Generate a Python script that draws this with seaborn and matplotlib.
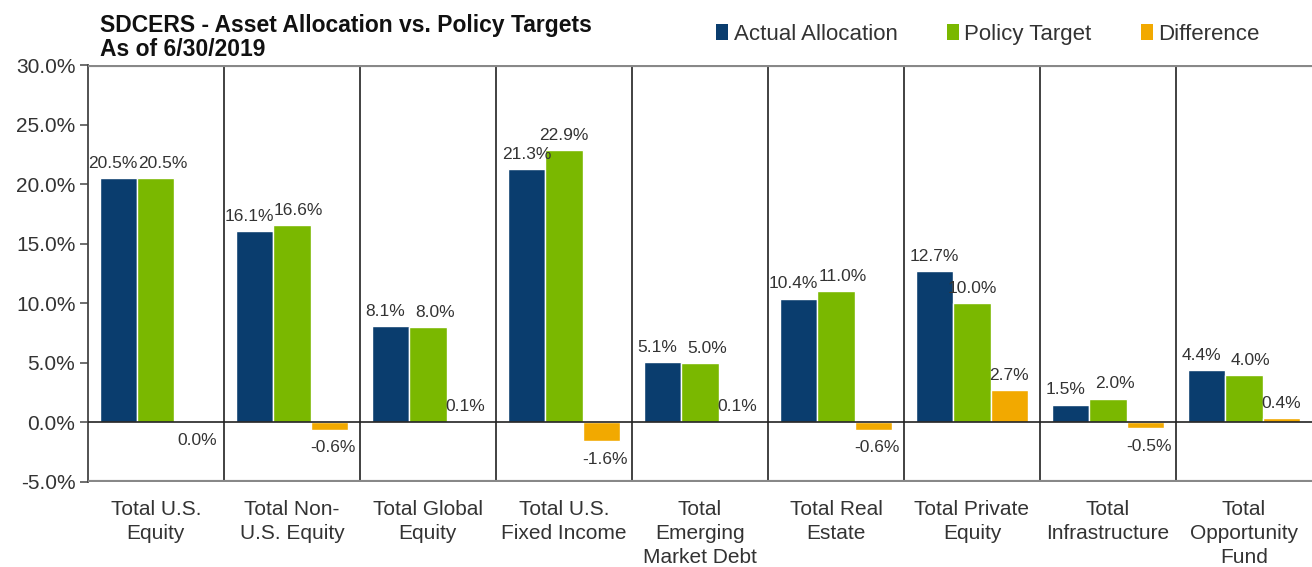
import matplotlib
matplotlib.use("Agg")
import matplotlib.pyplot as plt
import seaborn as sns
import pandas as pd
from matplotlib.patches import Patch

categories = ["Total U.S.\nEquity", "Total Non-\nU.S. Equity", "Total Global\nEquity",
              "Total U.S.\nFixed Income", "Total\nEmerging\nMarket Debt", "Total Real\nEstate",
              "Total Private\nEquity", "Total\nInfrastructure", "Total\nOpportunity\nFund"]
actual = [20.5, 16.1, 8.1, 21.3, 5.1, 10.4, 12.7, 1.5, 4.4]
target = [20.5, 16.6, 8.0, 22.9, 5.0, 11.0, 10.0, 2.0, 4.0]
difference = [0.0, -0.6, 0.1, -1.6, 0.1, -0.6, 2.7, -0.5, 0.4]
series = ["Actual Allocation", "Policy Target", "Difference"]
colors = ["#0A3D6E", "#7AB800", "#F2A900"]
yticks = [-5, 0, 5, 10, 15, 20, 25, 30]

rows = []
for i, c in enumerate(categories):
    for s, vals in zip(series, [actual, target, difference]):
        rows.append({"category": c, "series": s, "value": vals[i]})
df = pd.DataFrame(rows)

sns.set_style("white")
plt.rcParams["font.family"] = ["Liberation Sans", "DejaVu Sans"]

fig = plt.figure(figsize=(13.12, 5.67), dpi=100)
ax = fig.add_axes([0.067, 0.150, 0.933, 0.735])

sns.barplot(data=df, x="category", y="value", hue="series", order=categories,
            hue_order=series, palette=colors, width=0.82, dodge=True, ax=ax,
            legend=False, saturation=1, errorbar=None)

# data labels
lab_kw = dict(fontsize=12.5, color="#333333")
for k, (container, vals) in enumerate(zip(ax.containers, [actual, target, difference])):
    for i, (bar, v) in enumerate(zip(container, vals)):
        cx = bar.get_x() + bar.get_width() / 2
        # nudge neighbouring labels apart when they sit at nearly the same height
        if abs(actual[i] - target[i]) < 1.2:
            if k == 0:
                cx -= 0.04
            elif k == 1:
                cx += 0.05
        if v > 0:
            ax.text(cx, v + 0.6, f"{v:.1f}%", ha="center", va="bottom", **lab_kw)
        else:
            ax.text(cx + 0.03, v - 0.9, f"{v:.1f}%", ha="center", va="top", **lab_kw)

ax.set_xlim(-0.5, len(categories) - 0.5)
ax.set_ylim(-5, 30)
ax.set_yticks(yticks)
ax.set_yticklabels([f"{t:.1f}%" for t in yticks], fontsize=15, color="#333333")
ax.set_xticks(range(len(categories)))
ax.set_xticklabels(categories, fontsize=15, color="#333333", linespacing=1.32)
ax.tick_params(axis="x", length=0, pad=13)
ax.tick_params(axis="y", length=6, width=1.2, color="#555555", direction="out", left=True, pad=3)
ax.set_xlabel("")
ax.set_ylabel("")

for sp in ["top", "right", "bottom"]:
    ax.spines[sp].set_visible(False)
ax.spines["left"].set_color("#444444")
ax.spines["left"].set_linewidth(1.3)

for x in [i + 0.5 for i in range(len(categories) - 1)]:
    ax.axvline(x, color="#333333", lw=1.3, zorder=0)
ax.axhline(30, color="#888888", lw=3, zorder=3)
ax.axhline(-5, color="#888888", lw=3, zorder=3)
ax.axhline(0, color="#222222", lw=1.2, zorder=3)

fig.text(0.076, 0.975, "SDCERS - Asset Allocation vs. Policy Targets\nAs of 6/30/2019",
         fontsize=16.5, fontweight="bold", va="top", ha="left", color="#111111", linespacing=1.05)

handles = [Patch(facecolor=c, edgecolor="none") for c in colors]
fig.legend(handles, series, loc="center", bbox_to_anchor=(0.753, 0.94), ncol=3,
           frameon=False, fontsize=16, handlelength=0.55, handleheight=0.7,
           handletextpad=0.25, columnspacing=2.2, labelcolor="#333333")

fig.savefig("out.png", dpi=100)
